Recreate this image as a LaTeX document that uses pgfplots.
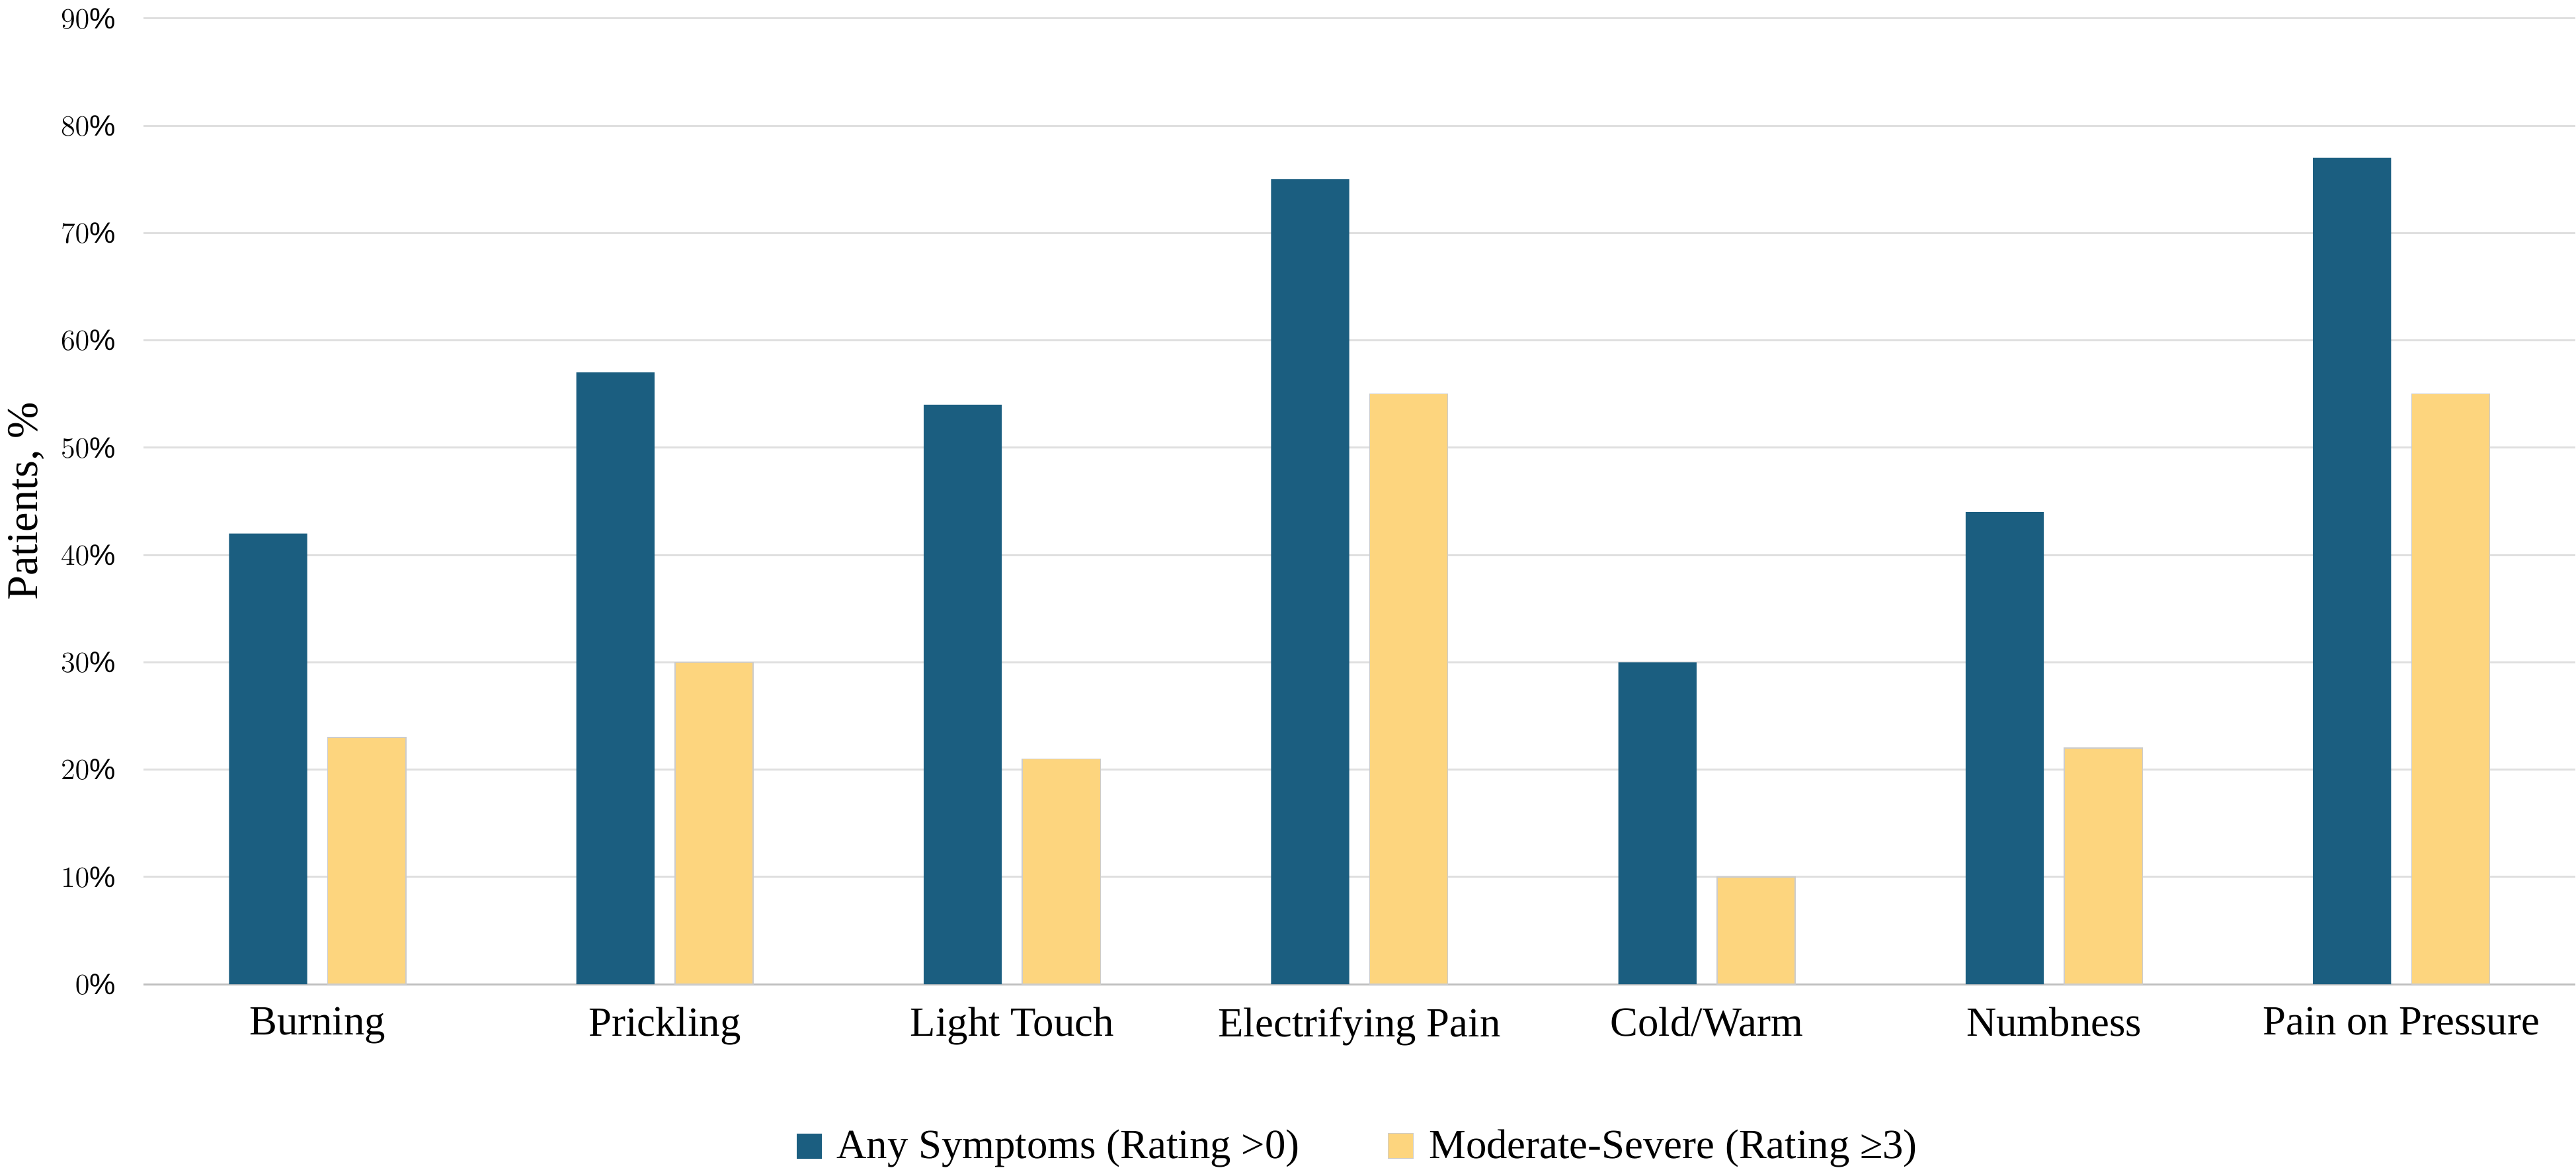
\documentclass[border=0pt]{standalone}
\usepackage{pgfplots}
\pgfplotsset{compat=1.18}
\usepackage{fontspec}
\setmainfont{Liberation Serif}
\newfontfamily\arial{Liberation Sans}
\definecolor{cblue}{HTML}{1B5E80}
\definecolor{cyel}{HTML}{FDD57E}
\begin{document}
\begin{tikzpicture}
\begin{axis}[
 scale only axis, width=35cm, height=13.9cm,
 ybar, bar width=1.125cm,
 xmin=-0.5, xmax=6.5, ymin=0, ymax=90,
 xtick=data, xticklabels={Burning,Prickling,Light Touch,Electrifying Pain,Cold/Warm,Numbness,Pain on Pressure},
 x tick label style={font=\fontsize{17}{20}\selectfont, yshift=-6pt},
 ytick={0,10,...,90},
 yticklabel={\arial\pgfmathprintnumber{\tick}\%},
 y tick label style={font=\fontsize{12}{14}\selectfont, xshift=-8pt},
 ymajorgrids, grid style={gray!25, line width=0.8pt},
 axis x line*=bottom, axis y line*=left,
 y axis line style={draw=none},
 x axis line style={gray!50, line width=0.8pt, -},
 major tick length=0pt,
 ylabel={Patients, \%}, ylabel style={font=\fontsize{18}{20}\selectfont},
 legend style={at={(0.5,-0.14)}, anchor=north, draw=none, legend columns=2,
   font=\fontsize{17}{20}\selectfont, /tikz/every even column/.append style={column sep=1.2cm}},
 legend image code/.code={\fill[#1] (0cm,-0.18cm) rectangle (0.36cm,0.18cm);},
]
\addplot[fill=cblue, draw=none, bar shift=-0.71cm] coordinates {(0,42)(1,57)(2,54)(3,75)(4,30)(5,44)(6,77)};
\addplot[fill=cyel, draw=gray!40, bar shift=0.71cm] coordinates {(0,23)(1,30)(2,21)(3,55)(4,10)(5,22)(6,55)};
\legend{\ Any Symptoms (Rating >0), \ Moderate-Severe (Rating ≥3)}
\end{axis}
\end{tikzpicture}
\end{document}
